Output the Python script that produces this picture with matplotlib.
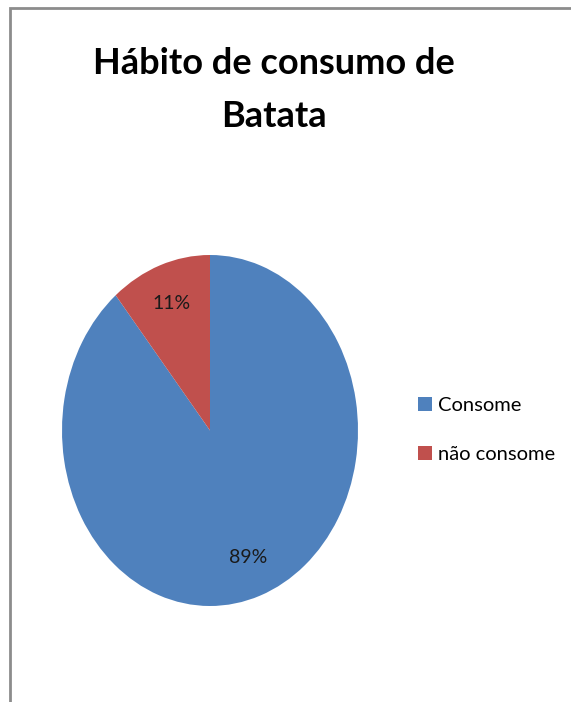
import matplotlib.pyplot as plt
from matplotlib.patches import Rectangle

plt.rcParams["font.family"] = ["Lato", "DejaVu Sans"]

# data
labels = ["Consome", "não consome"]
shares = [89, 11]
colors = ["#4F81BD", "#C0504D"]
title = "Hábito de consumo de\nBatata"

fig = plt.figure(figsize=(5.71, 7.02), dpi=100)
W, H = 571, 702

# pie is stretched vertically in the original, so use a non-square axes
ax = fig.add_axes([62 / W, (H - 606) / H, 296 / W, 351 / H])
wedges, texts, autotexts = ax.pie(
    shares, colors=colors, startangle=90, counterclock=False,
    autopct="%1.0f%%", pctdistance=0.77, radius=1,
    textprops={"fontsize": 14, "color": "#1a1a1a"},
)
ax.set_aspect("auto")
ax.set_xlim(-1, 1)
ax.set_ylim(-1, 1)
ax.axis("off")

fig.text(274 / W, 1 - 90 / H, title, ha="center", va="center",
         fontsize=26, fontweight="bold", linespacing=1.75)

fig.legend(wedges, labels, loc="center left",
           bbox_to_anchor=(400 / W, 1 - 430 / H), frameon=False,
           fontsize=14.5, handlelength=0.7, handleheight=0.7,
           handletextpad=0.3, labelspacing=1.6)

# chart border (partly cut off on right and bottom)
fig.patches.append(Rectangle((10 / W, -0.1), 1.2, 1 - 8 / H + 0.1,
                             transform=fig.transFigure, fill=False,
                             edgecolor="#8c8c8c", linewidth=2))

plt.savefig("out.png", dpi=100)
